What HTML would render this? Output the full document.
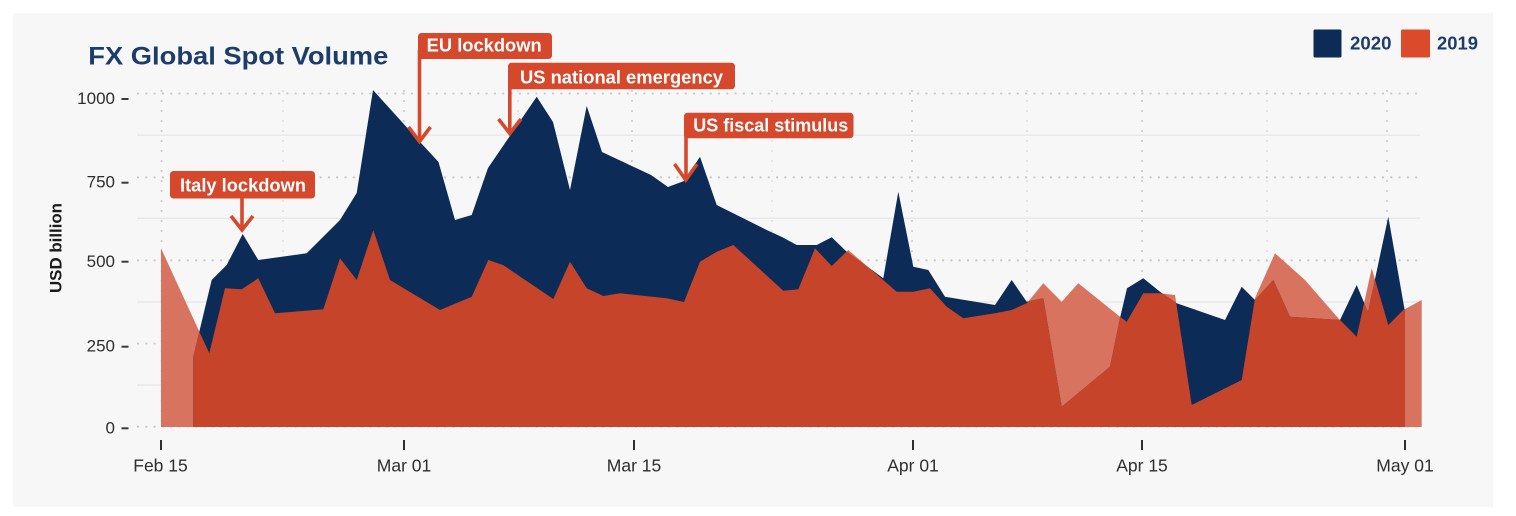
<!DOCTYPE html>
<html>
<head>
<meta charset="utf-8">
<style>
html,body{margin:0;padding:0;background:#ffffff;}
svg{display:block;}
text{font-family:"Liberation Sans",Arial,sans-serif;}
</style>
</head>
<body>
<svg width="1516" height="516" viewBox="0 0 1516 516" xmlns="http://www.w3.org/2000/svg">
<defs>
<clipPath id="c2020">
<path d="M193.3,427 L193.3,356.7 L211.7,280 L226.7,265 L242.7,234 L258.3,260 L306.7,253.3 L323,237 L340,220 L356.7,193 L373,90 L421,143 L438.5,162 L455,220 L471.7,215 L488,168 L536.7,96.7 L553,122 L570,190 L586.7,106 L602,152 L651,175 L668,187 L684,181 L700,156.7 L716.7,205 L766.7,230 L782,237 L796.7,245 L816.7,245 L831.7,237.3 L846.7,251.7 L883.3,278.3 L898.3,191.7 L913.3,266.7 L928.3,270 L945,296.7 L995,305 L1011.7,280 L1026.7,301.7 L1043.3,298.3 L1061.7,406.7 L1110,366.7 L1120,318 L1127,288.3 L1143.3,278.3 L1160,291.7 L1176.7,303.3 L1225,320 L1241.7,286.7 L1255,300 L1273.3,280 L1290,316.7 L1340,320 L1356.7,285 L1368,312 L1388.3,216.7 L1405,312 L1405,427 Z"/>
</clipPath>
</defs>

<!-- panel -->
<rect x="13" y="13" width="1480" height="494" fill="#f7f7f7"/>

<!-- minor horizontal grid -->
<g stroke="#e9e9e9" stroke-width="1.5">
<line x1="137" y1="135.3" x2="1420" y2="135.3"/>
<line x1="137" y1="218.3" x2="1420" y2="218.3"/>
<line x1="137" y1="302" x2="1420" y2="302"/>
<line x1="137" y1="385" x2="1420" y2="385"/>
</g>
<!-- minor vertical grid -->
<g stroke="#dedede" stroke-width="1.5" stroke-dasharray="2 8">
<line x1="283" y1="90" x2="283" y2="427"/>
<line x1="518" y1="90" x2="518" y2="427"/>
<line x1="772" y1="90" x2="772" y2="427"/>
<line x1="1027" y1="90" x2="1027" y2="427"/>
<line x1="1267" y1="90" x2="1267" y2="427"/>
</g>
<!-- major vertical grid -->
<g stroke="#cfcfcf" stroke-width="1.8" stroke-dasharray="2 8">
<line x1="161.5" y1="90" x2="161.5" y2="427"/>
<line x1="404" y1="90" x2="404" y2="427"/>
<line x1="632" y1="90" x2="632" y2="427"/>
<line x1="912" y1="90" x2="912" y2="427"/>
<line x1="1142" y1="90" x2="1142" y2="427"/>
<line x1="1387" y1="90" x2="1387" y2="427"/>
</g>
<!-- major horizontal grid -->
<g stroke="#c6c6c6" stroke-width="1.8" stroke-dasharray="2 6.3">
<line x1="137" y1="93.5" x2="1420" y2="93.5"/>
<line x1="137" y1="177.3" x2="1420" y2="177.3"/>
<line x1="137" y1="260.3" x2="1420" y2="260.3"/>
<line x1="137" y1="343.5" x2="1420" y2="343.5"/>
<line x1="137" y1="426.7" x2="1420" y2="426.7"/>
</g>

<!-- 2019 (salmon, where above 2020 / no 2020) -->
<path fill="#d8735f" d="M161,427 L161,248.3 L209.3,353.3 L225,288.3 L241.7,289.3 L258.3,278.3 L275,313.3 L323.3,309.3 L340,258.3 L356.7,280 L373.3,230 L390,280 L440,310 L471.7,296.7 L488.3,260 L503,265 L553.3,299 L570,261.7 L586.7,288.3 L603.3,296 L620,293.3 L666.7,298.3 L684,302 L700,261.7 L716.7,251.7 L733.3,245 L783.3,290.7 L798.3,289.3 L815,248.3 L831.7,266 L848.3,250 L896.7,291.7 L913.3,291.7 L930,288.3 L946.7,306.7 L963.3,318.3 L995,313.3 L1011.7,310 L1027,303 L1043.3,283.3 L1061.7,301.7 L1078.3,283.3 L1120,316.7 L1126.7,321.7 L1143.3,293.3 L1160,293.3 L1175,295 L1191.7,405 L1241.7,380 L1255,298 L1275,253.3 L1305,280 L1338.3,318.3 L1356.7,336.7 L1371.7,268.3 L1388.3,325 L1403.3,310 L1421.7,300 L1421.7,427 Z"/>

<!-- 2020 navy -->
<path fill="#0c2b57" d="M193.3,427 L193.3,356.7 L211.7,280 L226.7,265 L242.7,234 L258.3,260 L306.7,253.3 L323,237 L340,220 L356.7,193 L373,90 L421,143 L438.5,162 L455,220 L471.7,215 L488,168 L536.7,96.7 L553,122 L570,190 L586.7,106 L602,152 L651,175 L668,187 L684,181 L700,156.7 L716.7,205 L766.7,230 L782,237 L796.7,245 L816.7,245 L831.7,237.3 L846.7,251.7 L883.3,278.3 L898.3,191.7 L913.3,266.7 L928.3,270 L945,296.7 L995,305 L1011.7,280 L1026.7,301.7 L1043.3,298.3 L1061.7,406.7 L1110,366.7 L1120,318 L1127,288.3 L1143.3,278.3 L1160,291.7 L1176.7,303.3 L1225,320 L1241.7,286.7 L1255,300 L1273.3,280 L1290,316.7 L1340,320 L1356.7,285 L1368,312 L1388.3,216.7 L1405,312 L1405,427 Z"/>

<!-- 2019 over 2020 (solid red) -->
<path fill="#c5442a" clip-path="url(#c2020)" d="M161,427 L161,248.3 L209.3,353.3 L225,288.3 L241.7,289.3 L258.3,278.3 L275,313.3 L323.3,309.3 L340,258.3 L356.7,280 L373.3,230 L390,280 L440,310 L471.7,296.7 L488.3,260 L503,265 L553.3,299 L570,261.7 L586.7,288.3 L603.3,296 L620,293.3 L666.7,298.3 L684,302 L700,261.7 L716.7,251.7 L733.3,245 L783.3,290.7 L798.3,289.3 L815,248.3 L831.7,266 L848.3,250 L896.7,291.7 L913.3,291.7 L930,288.3 L946.7,306.7 L963.3,318.3 L995,313.3 L1011.7,310 L1027,303 L1043.3,283.3 L1061.7,301.7 L1078.3,283.3 L1120,316.7 L1126.7,321.7 L1143.3,293.3 L1160,293.3 L1175,295 L1191.7,405 L1241.7,380 L1255,298 L1275,253.3 L1305,280 L1338.3,318.3 L1356.7,336.7 L1371.7,268.3 L1388.3,325 L1403.3,310 L1421.7,300 L1421.7,427 Z"/>

<!-- Y axis -->
<g fill="#2e2e2e" font-size="17" text-anchor="end">
<text x="115" y="104">1000</text>
<text x="115" y="187.3">750</text>
<text x="115" y="267">500</text>
<text x="115" y="351.7">250</text>
<text x="115" y="433.3">0</text>
</g>
<g stroke="#3a3a3a" stroke-width="2">
<line x1="121.5" y1="99" x2="128.5" y2="99"/>
<line x1="121.5" y1="182.7" x2="128.5" y2="182.7"/>
<line x1="121.5" y1="261.7" x2="128.5" y2="261.7"/>
<line x1="121.5" y1="346.7" x2="128.5" y2="346.7"/>
<line x1="121.5" y1="428.3" x2="128.5" y2="428.3"/>
</g>
<text transform="translate(61.5,248) rotate(-90)" text-anchor="middle" font-size="16.5" font-weight="bold" fill="#1a1a1a" textLength="90" lengthAdjust="spacingAndGlyphs">USD billion</text>

<!-- X axis -->
<g stroke="#2e2e2e" stroke-width="2">
<line x1="161" y1="440" x2="161" y2="450"/>
<line x1="404" y1="440" x2="404" y2="450"/>
<line x1="634" y1="440" x2="634" y2="450"/>
<line x1="913" y1="440" x2="913" y2="450"/>
<line x1="1142" y1="440" x2="1142" y2="450"/>
<line x1="1405" y1="440" x2="1405" y2="450"/>
</g>
<g fill="#2e2e2e" font-size="17.5" text-anchor="middle">
<text x="160.5" y="471.7">Feb 15</text>
<text x="404" y="471.7">Mar 01</text>
<text x="634" y="471.7">Mar 15</text>
<text x="913" y="471.7">Apr 01</text>
<text x="1142" y="471.7">Apr 15</text>
<text x="1405" y="471.7">May 01</text>
</g>

<!-- Title -->
<text x="88.3" y="64.3" font-size="25" font-weight="bold" fill="#1c3c6c" textLength="300" lengthAdjust="spacingAndGlyphs">FX Global Spot Volume</text>

<!-- Legend -->
<rect x="1313.5" y="29.5" width="28" height="28" rx="1.5" fill="#0c2b57"/>
<text x="1350" y="49.5" font-size="18" font-weight="bold" fill="#1c3c6c" textLength="41.5" lengthAdjust="spacingAndGlyphs">2020</text>
<rect x="1401" y="29.5" width="29" height="28" rx="1.5" fill="#dc4a2c"/>
<text x="1437" y="49.5" font-size="18" font-weight="bold" fill="#1c3c6c" textLength="41" lengthAdjust="spacingAndGlyphs">2019</text>

<!-- Annotations -->
<g fill="#d6482b">
<rect x="170" y="171" width="145" height="27.5" rx="3.5"/>
<rect x="418" y="33" width="134" height="26" rx="3.5"/>
<rect x="508" y="62.7" width="227" height="26.6" rx="3.5"/>
<rect x="684" y="112.7" width="169.5" height="25.6" rx="3.5"/>
</g>
<g stroke="#d6482b" stroke-width="3.6" fill="none" stroke-linejoin="miter">
<line x1="242" y1="196" x2="242" y2="229"/>
<polyline points="231,216 242,230 253,216"/>
<line x1="419.5" y1="50" x2="419.5" y2="140"/>
<polyline points="408.5,127 419.5,141.5 430.5,127"/>
<line x1="509.8" y1="80" x2="509.8" y2="132"/>
<polyline points="498.5,119 509.8,133.5 521,119"/>
<line x1="686" y1="130" x2="686" y2="178.5"/>
<polyline points="674.5,164 685.8,180 697,164"/>
</g>
<g fill="#ffffff" font-size="18" font-weight="bold">
<text x="180" y="191.7" textLength="126" lengthAdjust="spacingAndGlyphs">Italy lockdown</text>
<text x="426.7" y="51.7" textLength="115" lengthAdjust="spacingAndGlyphs">EU lockdown</text>
<text x="520" y="83.3" textLength="203" lengthAdjust="spacingAndGlyphs">US national emergency</text>
<text x="693.3" y="131.7" textLength="155" lengthAdjust="spacingAndGlyphs">US fiscal stimulus</text>
</g>
</svg>
</body>
</html>
